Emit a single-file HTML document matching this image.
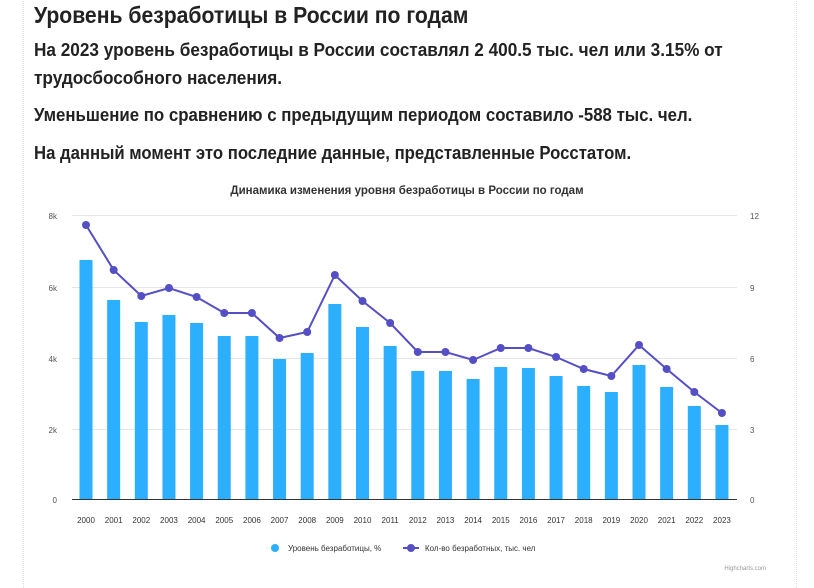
<!DOCTYPE html>
<html><head><meta charset="utf-8"><style>
body{margin:0;width:814px;height:578px;background:#fff;position:relative;overflow:hidden;font-family:"Liberation Sans",sans-serif;color:#222}
.box{position:absolute;left:23px;top:-2px;width:772px;height:590px;border-left:1px dotted #ddd;border-right:1px dotted #ddd}
h1{position:absolute;left:34px;top:0;margin:0;font-size:23px;font-weight:bold;line-height:30px;white-space:nowrap;transform:scaleX(0.92);transform-origin:0 0}
.p{position:absolute;left:34px;margin:0;font-size:18px;font-weight:bold;line-height:29px;white-space:nowrap;transform:scaleX(0.94);transform-origin:0 0}
</style></head><body>
<div class="box"></div>
<h1>Уровень безработицы в России по годам</h1>
<div class="p" style="top:36px;transform:scaleX(0.955)">На 2023 уровень безработицы в России составлял 2 400.5 тыс. чел или 3.15% от</div>
<div class="p" style="top:64px;transform:scaleX(0.955)">трудосбособного населения.</div>
<div class="p" style="top:101px;transform:scaleX(0.934)">Уменьшение по сравнению с предыдущим периодом составило -588 тыс. чел.</div>
<div class="p" style="top:139px;transform:scaleX(0.928)">На данный момент это последние данные, представленные Росстатом.</div>
<svg width="814" height="578" style="position:absolute;left:0;top:0" font-family="Liberation Sans,sans-serif">
<text x="407" y="194" text-anchor="middle" font-size="11.5" font-weight="bold" fill="#333">Динамика изменения уровня безработицы в России по годам</text>
<g stroke="#e6e6e6" stroke-width="1">
<line x1="72" x2="737" y1="215.5" y2="215.5"/><line x1="72" x2="737" y1="287.5" y2="287.5"/><line x1="72" x2="737" y1="358.5" y2="358.5"/><line x1="72" x2="737" y1="429.5" y2="429.5"/></g>
<line x1="72" x2="737" y1="499.5" y2="499.5" stroke="#333"/>
<g font-size="8" fill="#555" text-anchor="end">
<text x="57" y="219">8k</text><text x="57" y="291">6k</text><text x="57" y="362">4k</text><text x="57" y="433">2k</text><text x="57" y="503">0</text></g>
<g font-size="8" fill="#555" text-anchor="start">
<text x="750" y="219">12</text><text x="750" y="291">9</text><text x="750" y="362">6</text><text x="750" y="433">3</text><text x="750" y="503">0</text></g>
<g id="bars" fill="#2caffe"></g>
<polyline id="ln" fill="none" stroke="#544fc5" stroke-width="2"/>
<g id="dots" fill="#544fc5"></g>
<g id="xl" font-size="8" fill="#333" text-anchor="middle"></g>
<circle cx="275" cy="548" r="4" fill="#2caffe"/><text x="288" y="551" font-size="8" fill="#333">Уровень безработицы, %</text>
<line x1="403" x2="419" y1="548" y2="548" stroke="#544fc5" stroke-width="2"/><circle cx="411" cy="548" r="4" fill="#544fc5"/><text x="425" y="551" font-size="8" fill="#333">Кол-во безработных, тыс. чел</text>
<text x="766" y="570" font-size="6" fill="#999" text-anchor="end">Highcharts.com</text>
</svg>
<script>
var bt=[260,300,322,315,323,336,336,359,353,304,327,346,371,371,379,367,368,376,386,392,365,387,406,425];
var lt=[225,270,296,288,297,313,313,338,332,275,301,323,352,352,360,348,348,357,369,376,345,369,392,413];
var ns="http://www.w3.org/2000/svg",b=document.getElementById("bars"),d=document.getElementById("dots"),xl=document.getElementById("xl"),pts=[];
for(var i=0;i<24;i++){var x=86+i*27.65;
var r=document.createElementNS(ns,"rect");r.setAttribute("x",x-6.5);r.setAttribute("y",bt[i]);r.setAttribute("width",13);r.setAttribute("height",499-bt[i]);b.appendChild(r);
var c=document.createElementNS(ns,"circle");c.setAttribute("cx",x);c.setAttribute("cy",lt[i]);c.setAttribute("r",4);d.appendChild(c);
pts.push(x+","+lt[i]);
var t=document.createElementNS(ns,"text");t.setAttribute("x",x);t.setAttribute("y",523);t.textContent=2000+i;xl.appendChild(t);}
document.getElementById("ln").setAttribute("points",pts.join(" "));
</script>
</body></html>
